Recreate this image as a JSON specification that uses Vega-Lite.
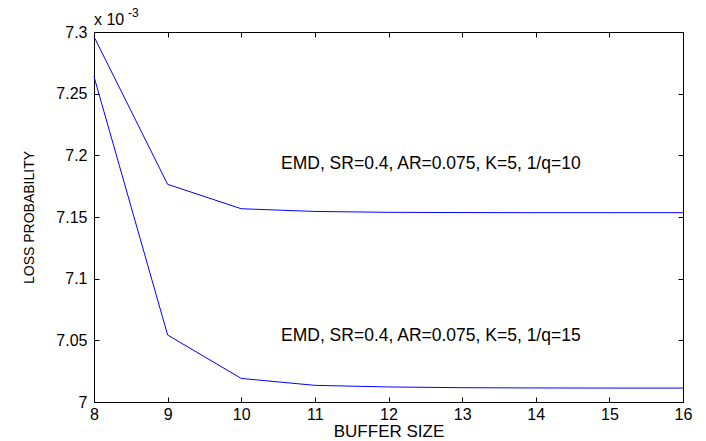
{
  "$schema": "https://vega.github.io/schema/vega-lite/v6.json",
  "autosize": {"type": "none"},
  "width": 589,
  "height": 370,
  "padding": {"left": 94, "top": 32, "right": 23, "bottom": 39},
  "background": "white",
  "config": {
    "view": {"stroke": "black", "strokeWidth": 1},
    "font": "Liberation Sans",
    "axis": {
      "grid": false,
      "domain": false,
      "tickColor": "black",
      "labelColor": "black",
      "titleColor": "black",
      "labelFont": "Liberation Sans",
      "titleFont": "Liberation Sans",
      "labelFontSize": 16,
      "titleFontSize": 15,
      "titleFontWeight": "normal",
      "tickSize": 5,
      "labelFlush": false
    }
  },
  "datasets": {
    "lines": [
      {"buffer": 8, "loss": 7.2962, "series": "1/q=10"},
      {"buffer": 9, "loss": 7.1765, "series": "1/q=10"},
      {"buffer": 10, "loss": 7.1567, "series": "1/q=10"},
      {"buffer": 11, "loss": 7.1545, "series": "1/q=10"},
      {"buffer": 12, "loss": 7.1538, "series": "1/q=10"},
      {"buffer": 13, "loss": 7.1536, "series": "1/q=10"},
      {"buffer": 14, "loss": 7.1535, "series": "1/q=10"},
      {"buffer": 15, "loss": 7.1535, "series": "1/q=10"},
      {"buffer": 16, "loss": 7.1535, "series": "1/q=10"},
      {"buffer": 8, "loss": 7.2638, "series": "1/q=15"},
      {"buffer": 9, "loss": 7.0543, "series": "1/q=15"},
      {"buffer": 10, "loss": 7.0191, "series": "1/q=15"},
      {"buffer": 11, "loss": 7.0135, "series": "1/q=15"},
      {"buffer": 12, "loss": 7.0122, "series": "1/q=15"},
      {"buffer": 13, "loss": 7.0116, "series": "1/q=15"},
      {"buffer": 14, "loss": 7.0114, "series": "1/q=15"},
      {"buffer": 15, "loss": 7.0113, "series": "1/q=15"},
      {"buffer": 16, "loss": 7.0113, "series": "1/q=15"}
    ],
    "labels": [
      {"buffer": 10.54, "loss": 7.193, "text": "EMD, SR=0.4, AR=0.075, K=5, 1/q=10"},
      {"buffer": 10.54, "loss": 7.0535, "text": "EMD, SR=0.4, AR=0.075, K=5, 1/q=15"}
    ],
    "exponent": [
      {"buffer": 8, "loss": 7.3}
    ]
  },
  "layer": [
    {
      "data": {"name": "lines"},
      "mark": {"type": "line", "color": "#0000ff", "strokeWidth": 1},
      "encoding": {
        "x": {
          "field": "buffer", "type": "quantitative",
          "scale": {"domain": [8, 16], "nice": false},
          "axis": {"title": "BUFFER SIZE", "titleFontSize": 17, "values": [8, 9, 10, 11, 12, 13, 14, 15, 16], "format": "d", "ticks": false, "labelPadding": 4, "titlePadding": 1}
        },
        "y": {
          "field": "loss", "type": "quantitative",
          "scale": {"domain": [7.0, 7.3], "nice": false, "zero": false},
          "axis": {"title": "LOSS PROBABILITY", "titleFontSize": 14, "values": [7.0, 7.05, 7.1, 7.15, 7.2, 7.25, 7.3], "format": "~g", "ticks": false, "labelPadding": 7, "titleX": -58}
        },
        "detail": {"field": "series"}
      }
    },
    {
      "data": {"name": "lines"},
      "mark": {"type": "line", "opacity": 0},
      "encoding": {
        "x": {
          "field": "buffer", "type": "quantitative",
          "axis": {"orient": "top", "offset": -370, "title": null, "labels": false, "values": [8, 9, 10, 11, 12, 13, 14, 15, 16]}
        },
        "y": {
          "field": "loss", "type": "quantitative",
          "axis": {"orient": "right", "offset": -589, "title": null, "labels": false, "values": [7.0, 7.05, 7.1, 7.15, 7.2, 7.25, 7.3]}
        },
        "detail": {"field": "series"}
      }
    },
    {
      "data": {"name": "labels"},
      "mark": {"type": "text", "align": "left", "baseline": "middle", "fontSize": 17.5, "font": "Liberation Sans", "color": "black"},
      "encoding": {
        "x": {"field": "buffer", "type": "quantitative", "axis": {"orient": "bottom", "offset": -370, "title": null, "labels": false, "values": [8, 9, 10, 11, 12, 13, 14, 15, 16]}},
        "y": {"field": "loss", "type": "quantitative", "axis": {"orient": "left", "offset": -589, "title": null, "labels": false, "values": [7.0, 7.05, 7.1, 7.15, 7.2, 7.25, 7.3]}},
        "text": {"field": "text"}
      }
    },
    {
      "data": {"name": "exponent"},
      "mark": {"type": "text", "align": "left", "baseline": "bottom", "fontSize": 16, "dx": 0, "dy": -4, "color": "black", "text": "x 10"},
      "encoding": {
        "x": {"field": "buffer", "type": "quantitative", "axis": null},
        "y": {"field": "loss", "type": "quantitative", "axis": null}
      }
    },
    {
      "data": {"name": "exponent"},
      "mark": {"type": "text", "align": "left", "baseline": "bottom", "fontSize": 12, "dx": 34, "dy": -12, "color": "black", "text": "-3"},
      "encoding": {
        "x": {"field": "buffer", "type": "quantitative", "axis": null},
        "y": {"field": "loss", "type": "quantitative", "axis": null}
      }
    }
  ],
  "resolve": {"axis": {"x": "independent", "y": "independent"}}
}
